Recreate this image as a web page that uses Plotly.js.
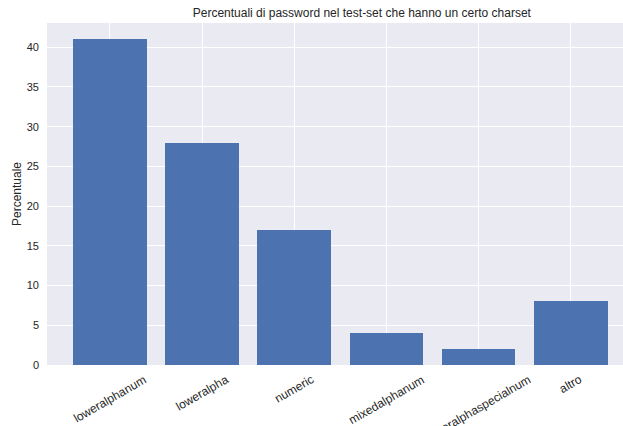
<!DOCTYPE html>
<html>
<head>
<meta charset="utf-8">
<script src="https://cdn.plot.ly/plotly-3.0.1.min.js"></script>
<style>
  html, body { margin: 0; padding: 0; background: #fff; }
  #chart { width: 623px; height: 426px; }
</style>
</head>
<body>
<div id="chart"></div>
<script>
// Charset categories and the share of test-set passwords in each (%)
const categories = ["loweralphanum", "loweralpha", "numeric", "mixedalphanum", "loweralphaspecialnum", "altro"];
const percentages = [41, 28, 17, 4, 2, 8];
const yTicks = [0, 5, 10, 15, 20, 25, 30, 35, 40];

const FONT = "Liberation Sans, Arial, sans-serif";
const TEXT = "#262626";

const trace = {
  type: "bar",
  x: categories,
  y: percentages,
  width: 0.8,
  marker: { color: "#4C72B0", line: { width: 0 } },
  hoverinfo: "x+y"
};

// Rotated category labels, centred under each bar
const labelAnnotations = categories.map(c => ({
  x: c,
  xref: "x",
  y: 0,
  yref: "paper",
  yanchor: "top",
  xanchor: "center",
  yshift: -6,
  text: c,
  textangle: -30,
  showarrow: false,
  borderpad: 0,
  font: { family: FONT, size: 12, color: TEXT }
}));

const layout = {
  width: 623,
  height: 426,
  margin: { l: 47, r: 0, t: 23, b: 61, pad: 0 },
  paper_bgcolor: "#ffffff",
  plot_bgcolor: "#EAEAF2",
  font: { family: FONT, size: 11, color: TEXT },
  showlegend: false,
  bargap: 0,
  title: {
    text: "Percentuali di password nel test-set che hanno un certo charset",
    font: { family: FONT, size: 12, color: TEXT },
    x: 340.5 / 623,
    xref: "paper",
    xanchor: "center",
    y: 1 - 12.5 / 426,
    yanchor: "middle"
  },
  xaxis: {
    type: "category",
    range: [-0.681, 5.566],
    showgrid: true,
    gridcolor: "#ffffff",
    gridwidth: 1,
    zeroline: false,
    showline: false,
    ticks: "",
    showticklabels: false,
    fixedrange: true
  },
  yaxis: {
    range: [0, 43.05],
    tickvals: yTicks,
    ticktext: yTicks.map(String),
    showgrid: true,
    gridcolor: "#ffffff",
    gridwidth: 1,
    zeroline: false,
    showline: false,
    ticks: "",
    ticklabelstandoff: 7,
    tickfont: { family: FONT, size: 11, color: TEXT },
    title: {
      text: "Percentuale",
      font: { family: FONT, size: 12, color: TEXT },
      standoff: 2
    },
    fixedrange: true
  },
  annotations: labelAnnotations
};

Plotly.newPlot("chart", [trace], layout, { displayModeBar: false, staticPlot: true });
</script>
</body>
</html>
